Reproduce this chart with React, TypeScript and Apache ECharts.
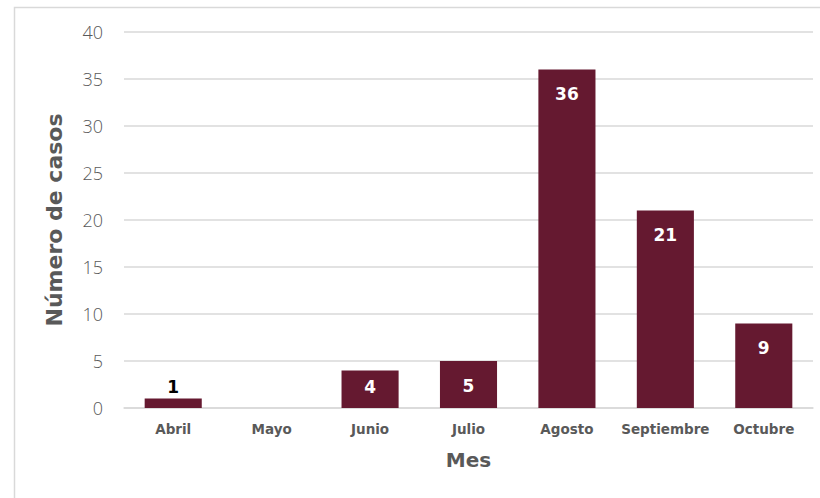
import React, { useEffect, useRef } from "react";
import * as echarts from "echarts";

const categories = ["Abril", "Mayo", "Junio", "Julio", "Agosto", "Septiembre", "Octubre"];
const casos = [1, 0, 4, 5, 36, 21, 9];
const yTicks = { min: 0, max: 40, interval: 5 };

const BAR = "#651930";
const GRAY = "#595959";
const FONT = "'DejaVu Sans', 'Open Sans', sans-serif";

export default function App() {
  const ref = useRef<HTMLDivElement>(null);
  useEffect(() => {
    if (!ref.current) return;
    const chart = echarts.init(ref.current, undefined, { renderer: "svg" });
    const data = casos.map((v) => {
      if (v === 0) return { value: v, label: { show: false } };
      if (v < 3)
        return {
          value: v,
          label: { show: true, position: "top", distance: 3, color: "#000000" },
        };
      if (v < 5) return { value: v, label: { distance: 8 } };
      return { value: v };
    });
    chart.setOption({
      animation: false,
      textStyle: { fontFamily: FONT },
      graphic: [
        {
          type: "rect",
          shape: { x: 14.5, y: 7.5, width: 830, height: 520 },
          style: { fill: "none", stroke: "#d9d9d9", lineWidth: 1.5 },
          silent: true,
        },
      ],
      grid: { left: 124, right: 7, top: 32, bottom: 90 },
      xAxis: {
        type: "category",
        data: categories,
        axisLine: { show: true, lineStyle: { color: "#d9d9d9", width: 1.5 } },
        axisTick: { show: false },
        axisLabel: {
          color: GRAY,
          fontWeight: "bold",
          fontSize: 13.5,
          margin: 14,
          interval: 0,
          fontFamily: FONT,
        },
        name: "Mes",
        nameLocation: "middle",
        nameGap: 42,
        nameTextStyle: { color: GRAY, fontWeight: "bold", fontSize: 20, fontFamily: FONT },
      },
      yAxis: {
        type: "value",
        min: yTicks.min,
        max: yTicks.max,
        interval: yTicks.interval,
        axisLine: { show: false },
        axisTick: { show: false },
        splitLine: { lineStyle: { color: "#d9d9d9", width: 1.5 } },
        axisLabel: {
          color: GRAY,
          fontSize: 18,
          fontWeight: 300,
          margin: 21,
          fontFamily: "'Open Sans', 'Lato', sans-serif",
        },
        name: "Número de casos",
        nameLocation: "middle",
        nameGap: 59,
        nameRotate: 90,
        nameTextStyle: { color: GRAY, fontWeight: "bold", fontSize: 22, fontFamily: FONT },
      },
      series: [
        {
          type: "bar",
          data,
          barWidth: "58%",
          itemStyle: { color: BAR },
          label: {
            show: true,
            position: "insideTop",
            distance: 16,
            color: "#ffffff",
            fontWeight: "bold",
            fontSize: 17,
            fontFamily: FONT,
          },
        },
      ],
    });
    return () => chart.dispose();
  }, []);
  return (
    <div
      ref={ref}
      style={{ position: "fixed", left: 0, top: 0, width: 820, height: 498, background: "#ffffff" }}
    />
  );
}
